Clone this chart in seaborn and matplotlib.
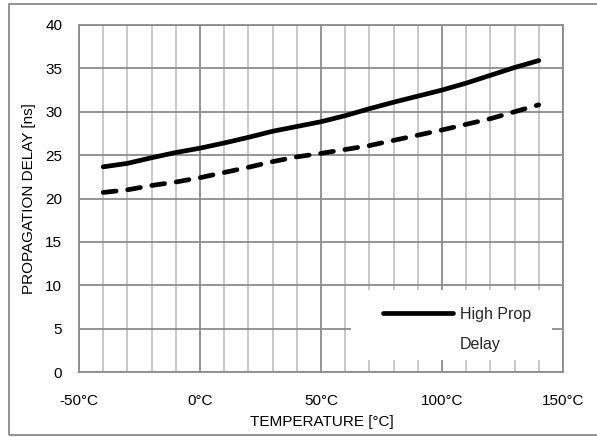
import matplotlib
matplotlib.use("Agg")
import matplotlib.pyplot as plt
from matplotlib.lines import Line2D
from matplotlib.patches import Rectangle
from matplotlib.ticker import MultipleLocator, FixedLocator
import seaborn as sns
import pandas as pd

# ---- data ----
temperature = [-40, -30, -20, -10, 0, 10, 20, 30, 40, 50, 60, 70, 80, 90, 100, 110, 120, 130, 140]
high_prop_delay = [23.65, 24.05, 24.7, 25.3, 25.8, 26.4, 27.05, 27.75, 28.3, 28.85, 29.55, 30.35, 31.1, 31.8, 32.5, 33.3, 34.2, 35.1, 35.9]
low_prop_delay = [20.7, 21.0, 21.5, 21.9, 22.4, 23.0, 23.6, 24.25, 24.8, 25.2, 25.65, 26.1, 26.7, 27.3, 27.9, 28.55, 29.2, 30.0, 30.8]
x_ticks = [-50, 0, 50, 100, 150]
x_tick_labels = ["-50°C", "0°C", "50°C", "100°C", "150°C"]
y_ticks = [0, 5, 10, 15, 20, 25, 30, 35, 40]

df = pd.DataFrame({"temp": temperature, "high": high_prop_delay, "low": low_prop_delay})

sns.set_theme(style="white")
plt.rcParams["font.family"] = ["Liberation Sans", "DejaVu Sans"]

fig = plt.figure(figsize=(5.97, 4.37), dpi=100)
W, H = 597, 437
ax = fig.add_axes([79 / W, (H - 372) / H, 484 / W, 347 / H])

# outer gray border of the chart area
fig.patches.append(Rectangle((9 / W, 2 / H), 1.2, (433 - 2) / H, transform=fig.transFigure,
                             fill=False, edgecolor="#8a8a8a", linewidth=1.3, zorder=0))

lw = 3.4
sns.lineplot(data=df, x="temp", y="high", ax=ax, color="black", linewidth=lw,
             solid_capstyle="round", zorder=5)
sns.lineplot(data=df, x="temp", y="low", ax=ax, color="black", linewidth=lw,
             dashes=False, zorder=5)
ax.lines[1].set_linestyle((0, (2.75, 2.45)))
ax.lines[1].set_dash_capstyle("round")

ax.set_xlim(-50, 150)
ax.set_ylim(0, 40)
ax.xaxis.set_major_locator(FixedLocator(x_ticks))
ax.set_xticklabels(x_tick_labels)
ax.xaxis.set_minor_locator(MultipleLocator(10))
ax.yaxis.set_major_locator(FixedLocator(y_ticks))

ax.grid(which="minor", axis="x", color="#c4c4c4", linewidth=1.3, zorder=0)
ax.grid(which="major", axis="x", color="#8c8c8c", linewidth=1.3, zorder=0)
ax.grid(which="major", axis="y", color="#8c8c8c", linewidth=1.3, zorder=0)
ax.set_axisbelow(True)
for s in ax.spines.values():
    s.set_color("#8c8c8c")
    s.set_linewidth(1.3)

ax.tick_params(axis="x", which="both", length=0, pad=15.5, labelsize=11, labelcolor="black")
ax.tick_params(axis="y", which="both", length=0, pad=12, labelsize=11, labelcolor="black")

ax.set_xlabel("TEMPERATURE [°C]", fontsize=11, color="black")
ax.set_ylabel("PROPAGATION DELAY [ns]", fontsize=11, color="black")
ax.xaxis.set_label_coords(0.502, -0.124)
ax.yaxis.set_label_coords(-0.088, 0.5)

# legend background
ax.add_patch(Rectangle(((351 - 79) / 484, (372 - 360) / 347), (552 - 351) / 484, (360 - 290) / 347,
                       transform=ax.transAxes, facecolor="white", edgecolor="none", zorder=3))
handles = [Line2D([], [], color="black", linewidth=lw, solid_capstyle="round"),
           Line2D([], [], color="none")]
leg = ax.legend(handles, ["High Prop", "Delay"], loc="upper left",
                bbox_to_anchor=((383 - 79) / 484, (372 - 307) / 347), frameon=False,
                fontsize=11.5, handlelength=4.4, handletextpad=0.4, borderpad=0,
                borderaxespad=0, labelspacing=0.95)
leg.set_zorder(6)

fig.savefig("out.png", dpi=100, facecolor="white")
